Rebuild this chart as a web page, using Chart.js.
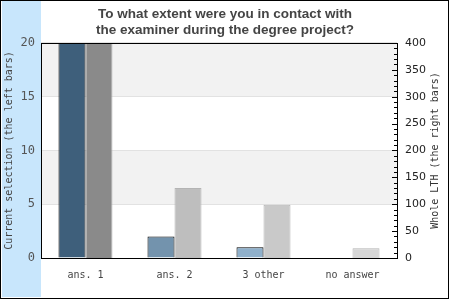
<!DOCTYPE html>
<html>
<head>
<meta charset="utf-8">
<script src="https://cdn.jsdelivr.net/npm/chart.js@4/dist/chart.umd.min.js"></script>
<style>
html,body{margin:0;padding:0;background:#fff;}
canvas{display:block;}
</style>
</head>
<body>
<canvas id="c" width="450" height="300"></canvas>
<script>
const titleLines = ["To what extent were you in contact with", "the examiner during the degree project?"];
const categories = ["ans. 1", "ans. 2", "3 other", "no answer"];
const currentSelection = [20, 2, 1, 0];
const wholeLTH = [400, 130, 99, 18];
const leftColors = ["#3e5f7b", "#7393ad", "#8fb0cb", "#a8c4dc"];
const rightColors = ["#8a8a8a", "#bebebe", "#c9c9c9", "#d6d6d6"];
const leftAxisTitle = "Current selection (the left bars)";
const rightAxisTitle = "Whole LTH (the right bars)";

const MONO = "'DejaVu Sans Mono', monospace";

const decor = {
  id: 'decor',
  beforeDraw(chart) {
    const ctx = chart.ctx;
    const a = chart.chartArea;
    const y = chart.scales.y;
    ctx.save();
    ctx.fillStyle = '#fff';
    ctx.fillRect(0, 0, chart.width, chart.height);
    ctx.fillStyle = '#c8e6fc';
    ctx.fillRect(2, 1, a.left - 2, 296);
    ctx.fillStyle = '#f2f2f2';
    [[15, 20], [5, 10]].forEach(([lo, hi]) => {
      const t = y.getPixelForValue(hi), b = y.getPixelForValue(lo);
      ctx.fillRect(a.left, t, a.right - a.left, b - t);
    });
    ctx.restore();
  },
  afterDatasetsDraw(chart) {
    const ctx = chart.ctx;
    const a = chart.chartArea;
    const y1 = chart.scales.y1;
    ctx.save();
    ctx.strokeStyle = '#000';
    ctx.lineWidth = 1;
    ctx.strokeRect(Math.round(a.left) + 0.5, Math.round(a.top) + 0.5, Math.round(a.right - a.left), Math.round(a.bottom - a.top));
    for (let v = 0; v <= 400; v += 10) {
      const py = Math.round(y1.getPixelForValue(v)) + 0.5;
      const len = (v % 50 === 0) ? 5 : 3;
      ctx.beginPath();
      ctx.moveTo(a.right - len, py);
      ctx.lineTo(a.right, py);
      ctx.stroke();
    }
    ctx.restore();
  },
  afterDraw(chart) {
    const ctx = chart.ctx;
    const a = chart.chartArea;
    ctx.save();
    ctx.fillStyle = '#333';
    ctx.font = "10px " + MONO;
    ctx.textAlign = 'center';
    ctx.textBaseline = 'middle';
    ctx.translate(435, (a.top + a.bottom) / 2);
    ctx.rotate(-Math.PI / 2);
    ctx.fillText(rightAxisTitle, 0, 0);
    ctx.restore();
    ctx.save();
    ctx.strokeStyle = '#000';
    ctx.lineWidth = 1;
    ctx.strokeRect(0.5, 0.5, 448, 298);
    ctx.restore();
  }
};

new Chart(document.getElementById('c'), {
  type: 'bar',
  data: {
    labels: categories,
    datasets: [
      {
        label: leftAxisTitle,
        data: currentSelection,
        yAxisID: 'y',
        backgroundColor: leftColors,
        borderColor: '#000',
        borderWidth: 1
      },
      {
        label: rightAxisTitle,
        data: wholeLTH,
        yAxisID: 'y1',
        backgroundColor: rightColors,
        borderColor: '#b4b4b4',
        borderWidth: 1
      }
    ]
  },
  options: {
    responsive: false,
    animation: false,
    devicePixelRatio: 1,
    layout: { padding: 0 },
    datasets: { bar: { categoryPercentage: 0.607, barPercentage: 1 } },
    plugins: {
      legend: { display: false },
      tooltip: { enabled: false },
      title: {
        display: true,
        text: titleLines,
        color: '#444',
        font: { family: "'Liberation Sans', Arial, sans-serif", size: 13.5, weight: 'bold', lineHeight: 1.185 },
        padding: { top: 6, bottom: 5 }
      }
    },
    scales: {
      x: {
        grid: { display: false, drawTicks: false },
        border: { display: false },
        ticks: { color: '#444', font: { family: MONO, size: 10 }, padding: 11, maxRotation: 0 },
        afterFit(s) { s.height = 42; }
      },
      y: {
        position: 'left',
        min: 0, max: 20,
        ticks: { stepSize: 5, color: '#555', font: { family: MONO, size: 12 }, padding: 6 },
        grid: { color: '#e2e2e2', drawTicks: false },
        border: { display: false },
        title: { display: true, text: leftAxisTitle, color: '#444', font: { family: MONO, size: 10 }, padding: { top: 3, bottom: 0 } },
        afterFit(s) { s.width = 41; }
      },
      y1: {
        position: 'right',
        min: 0, max: 400,
        ticks: { stepSize: 50, color: '#222', font: { family: "'DejaVu Sans', sans-serif", size: 11 }, padding: 8 },
        grid: { display: false, drawTicks: false },
        border: { display: false },
        afterFit(s) { s.width = 53; }
      }
    }
  },
  plugins: [decor]
});
</script>
</body>
</html>
